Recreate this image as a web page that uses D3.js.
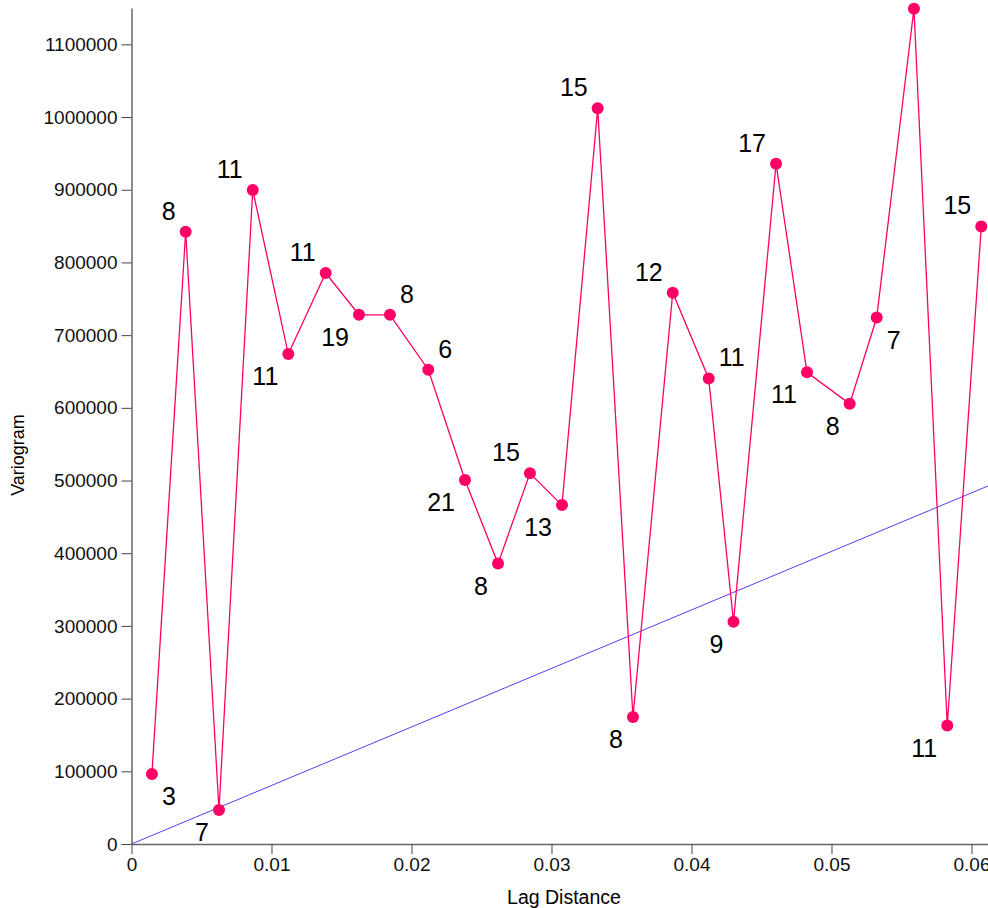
<!DOCTYPE html>
<html>
<head>
<meta charset="utf-8">
<script src="https://cdn.jsdelivr.net/npm/d3@7"></script>
<style>
  body { margin: 0; background: #fff; }
  text { font-family: "Liberation Sans", Arial, sans-serif; }
</style>
</head>
<body>
<div id="chart"></div>
<script>
var width = 988, height = 908;

// lag distance, variogram value, pair count, label placement
var lags = [0.00146, 0.00387, 0.00625, 0.00866, 0.0112, 0.01387, 0.01625, 0.01846, 0.0212, 0.02382,
            0.02618, 0.02846, 0.03075, 0.0333, 0.03582, 0.03866, 0.04123, 0.0430, 0.04604, 0.04825,
            0.0513, 0.05323, 0.05589, 0.05827, 0.0607];
var gammas = [96300, 842200, 46800, 899600, 674000, 785400, 728000, 728000, 652400, 500700,
              385700, 509900, 466200, 1012100, 174700, 758300, 640400, 305600, 935800, 648800,
              605500, 724200, 1149000, 162900, 849500];
var pairs = [3, 8, 7, 11, 11, 11, 19, 8, 6, 21,
             8, 15, 13, 15, 8, 12, 11, 9, 17, 11,
             8, 7, null, 11, 15];
var spots = ['br', 'tl', 'bl', 'tl', 'bl', 'tl', 'bl', 'tr', 'tr', 'bl',
             'bl', 'tl', 'bl', 'tl', 'bl', 'tl', 'tr', 'bl', 'tl', 'bl',
             'bl', 'br', 'tl', 'bl', 'tl'];

// fitted linear model: gamma = slope * h
var modelSlope = 8.05e6;
var yTicks = [0, 100000, 200000, 300000, 400000, 500000, 600000, 700000, 800000, 900000, 1000000, 1100000];
var xTicks = [0, 0.01, 0.02, 0.03, 0.04, 0.05, 0.06];

var pts = lags.map((h, i) => ({h: h, g: gammas[i], n: pairs[i], s: spots[i]}));

var svg = d3.select('#chart').append('svg')
  .attr('width', width)
  .attr('height', height);

var x = d3.scaleLinear().domain([0, 0.06118]).range([131.5, 988]);
var y = d3.scaleLinear().domain([0, 1150000]).range([844, 8]);

// axes
var xAxis = svg.append('g')
  .attr('transform', 'translate(0,844)')
  .call(d3.axisBottom(x).tickValues(xTicks).tickFormat(d => d === 0 ? '0' : d3.format('.2f')(d)).tickSize(10).tickPadding(4).tickSizeOuter(0));
var yAxis = svg.append('g')
  .attr('transform', 'translate(131.5,0)')
  .call(d3.axisLeft(y).tickValues(yTicks).tickFormat(d3.format('d')).tickSize(10).tickPadding(4).tickSizeOuter(0));

[xAxis, yAxis].forEach(a => {
  a.select('.domain').attr('stroke', '#666').attr('stroke-width', 1.5);
  a.selectAll('.tick line').attr('stroke', '#444');
  a.selectAll('.tick text').attr('fill', '#111').style('font-size', '19px');
});

svg.append('text')
  .attr('x', 564).attr('y', 904)
  .attr('text-anchor', 'middle')
  .style('font-size', '19.5px')
  .text('Lag Distance');

svg.append('text')
  .attr('transform', 'translate(24,455) rotate(-90)')
  .attr('text-anchor', 'middle')
  .style('font-size', '18px')
  .text('Variogram');

// model line
svg.append('line')
  .attr('x1', x(0)).attr('y1', y(0))
  .attr('x2', x(0.06118)).attr('y2', y(modelSlope * 0.06118))
  .attr('stroke', '#5b3cf5')
  .attr('stroke-width', 1);

// experimental variogram
var line = d3.line().x(d => x(d.h)).y(d => y(d.g));
svg.append('path')
  .datum(pts)
  .attr('d', line)
  .attr('fill', 'none')
  .attr('stroke', '#ff0066')
  .attr('stroke-width', 1.3);

svg.append('g').selectAll('circle')
  .data(pts)
  .enter()
  .append('circle')
  .attr('cx', d => x(d.h))
  .attr('cy', d => y(d.g))
  .attr('r', 6)
  .attr('fill', '#ff0066');

svg.append('g').selectAll('text')
  .data(pts.filter(d => d.n !== null))
  .enter()
  .append('text')
  .attr('x', d => x(d.h) + (d.s[1] === 'l' ? -10 : 10))
  .attr('y', d => y(d.g) + (d.s[0] === 't' ? -12 : 31))
  .attr('text-anchor', d => d.s[1] === 'l' ? 'end' : 'start')
  .style('font-size', '25px')
  .attr('fill', '#000')
  .text(d => d.n);
</script>
</body>
</html>
